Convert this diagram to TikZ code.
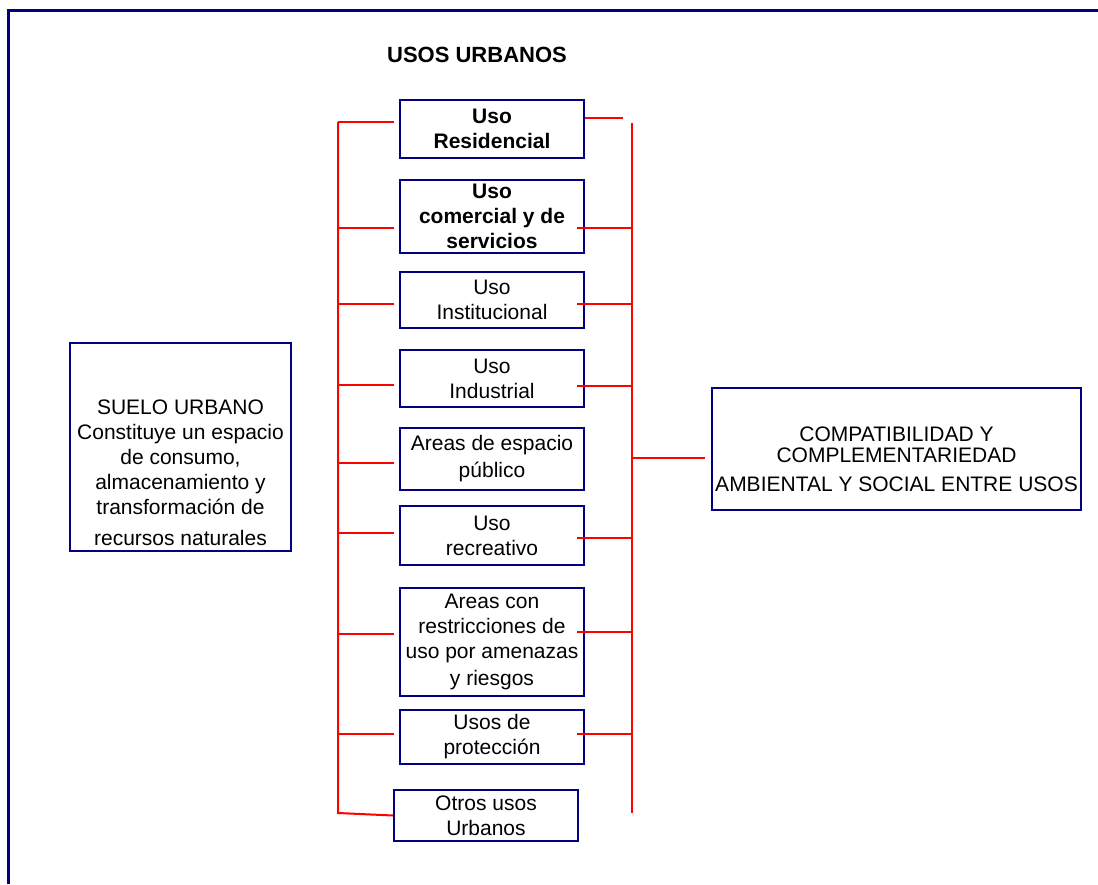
\documentclass[tikz,border=0pt]{standalone}
\usepackage{fontspec}
\setmainfont{Liberation Sans}
\definecolor{frameblue}{RGB}{0,0,128}
\definecolor{busred}{RGB}{255,0,0}

\begin{document}
\begin{tikzpicture}[x=0.5pt,y=-0.5pt,
    usebox/.style={draw=frameblue,line width=1pt,inner sep=0pt,align=center,
      font=\fontsize{10.5}{12.5}\selectfont,minimum width=92pt},
    bus/.style={draw=busred,line width=1pt}]
  \useasboundingbox (0,0) rectangle (1098,884);
  \draw[frameblue,line width=1.5pt] (1098,10) -- (8,10) -- (8,884);
  \node[font=\fontsize{11}{13}\selectfont\bfseries] (title) at (477,55) {USOS URBANOS};
  % usos
  \node[usebox,minimum height=29pt,font=\fontsize{10.5}{12.5}\selectfont\bfseries] (res) at (492,129) {Uso\\Residencial};
  \node[usebox,minimum height=36.5pt,font=\fontsize{10.5}{12.5}\selectfont\bfseries] (com) at (492,216.5) {Uso\\comercial y de\\servicios};
  \node[usebox,minimum height=28pt] (ins) at (492,300) {Uso\\Institucional};
  \node[usebox,minimum height=28.5pt] (ind) at (492,378.5) {Uso\\Industrial};
  \node[usebox,minimum height=31pt] (esp) at (492,459) {Areas de espacio\\[1pt]p\'ublico};
  \node[usebox,minimum height=29.5pt] (rec) at (492,535.5) {Uso\\recreativo};
  \node[usebox,minimum height=54pt] (rie) at (492,642) {Areas con\\restricciones de\\uso por amenazas\\[1pt]y riesgos};
  \node[usebox,minimum height=27pt] (pro) at (492,737) {Usos de\\protecci\'on};
  \node[usebox,minimum height=25.5pt] (otr) at (486,815.5) {Otros usos\\Urbanos};
  % suelo y compatibilidad
  \node[usebox,minimum width=110.5pt,minimum height=104pt] (suelo) at (180.5,447)
    {\rule{0pt}{33pt}SUELO URBANO\\Constituye un espacio\\de consumo,\\almacenamiento y\\transformaci\'on de\\[3pt]recursos naturales};
  \node[usebox,minimum width=184.5pt,minimum height=61pt] (compat) at (896.5,449)
    {\rule{0pt}{18pt}COMPATIBILIDAD Y\\[-2pt]COMPLEMENTARIEDAD\\[2pt]AMBIENTAL Y SOCIAL ENTRE USOS};
  % buses
  \coordinate (lbtop) at (338,122);
  \coordinate (lbbot) at (338,813);
  \coordinate (rbtop) at (632,123);
  \coordinate (rbbot) at (632,813);
  \coordinate (resend) at (623,118);
  \draw[bus] (lbtop) -- (lbbot) -- (otr.west);
  \draw[bus] (rbtop) -- (rbbot);
  \foreach \n/\y in {res/122,com/228,ins/304,ind/385,esp/463,rec/533,rie/634,pro/734}
    \draw[bus] (lbtop |- 0,\y) -- ([xshift=-2.5pt]\n.west |- 0,\y);
  \draw[bus] (res.east |- resend) -- (resend);
  \foreach \n/\y in {com/228,ins/304,ind/386,rec/538,rie/632,pro/734}
    \draw[bus] ([xshift=-4pt]\n.east |- 0,\y) -- (rbtop |- 0,\y);
  \draw[bus] (rbtop |- 0,458) -- ([xshift=-3pt]compat.west |- 0,458);
\end{tikzpicture}
\end{document}
